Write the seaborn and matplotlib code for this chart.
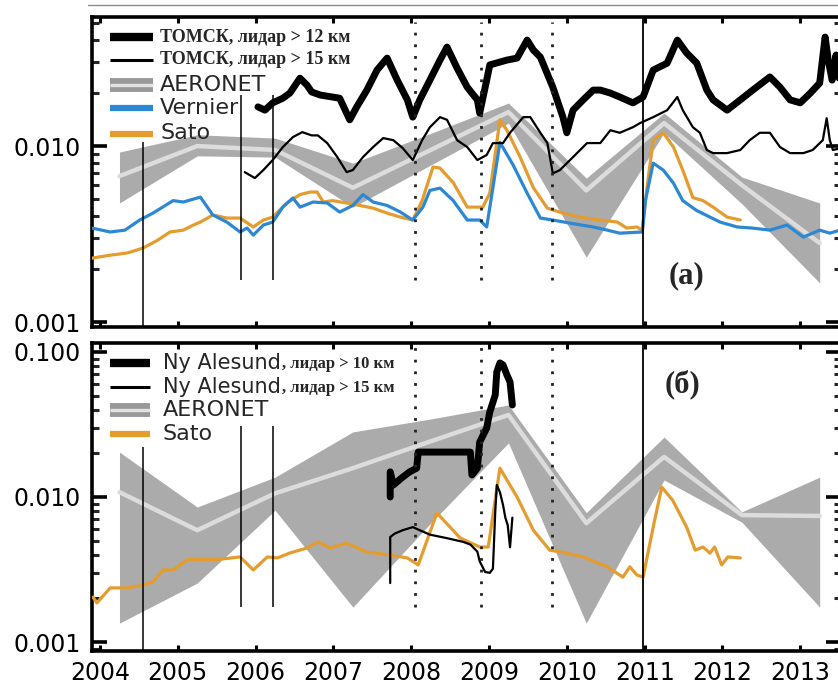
import numpy as np
import matplotlib
matplotlib.use("Agg")
import matplotlib.pyplot as plt
import seaborn as sns
from matplotlib.ticker import LogLocator, FixedLocator, FormatStrFormatter, NullFormatter
from matplotlib.lines import Line2D
from matplotlib.transforms import Affine2D

# ---------------- data ----------------
year_ticks = [2004, 2005, 2006, 2007, 2008, 2009, 2010, 2011, 2012, 2013]

# (a) Tomsk lidar > 12 km
tomsk12_yr = [2006.03, 2006.12, 2006.22, 2006.35, 2006.44, 2006.57, 2006.66, 2006.72, 2006.83, 2007.08,
              2007.21, 2007.30, 2007.43, 2007.56, 2007.69, 2007.82, 2007.95, 2008.02, 2008.11, 2008.24,
              2008.37, 2008.46, 2008.59, 2008.72, 2008.85, 2008.88, 2008.97, 2009.01, 2009.23, 2009.36,
              2009.49, 2009.57, 2009.66, 2009.82, 2009.95, 2010.00, 2010.08, 2010.21, 2010.34, 2010.43,
              2010.56, 2010.68, 2010.85, 2010.98, 2011.11, 2011.29, 2011.42, 2011.54, 2011.67, 2011.80,
              2011.88, 2012.06, 2012.23, 2012.39, 2012.61, 2012.74, 2012.87, 2013.00, 2013.13, 2013.25,
              2013.32, 2013.36, 2013.41, 2013.46, 2013.51]
tomsk12_val = [0.0167, 0.0160, 0.0176, 0.0187, 0.0200, 0.0243, 0.0222, 0.0203, 0.0195, 0.0187,
               0.0141, 0.0167, 0.0208, 0.0270, 0.0316, 0.0237, 0.0183, 0.0146, 0.0183, 0.0237,
               0.0308, 0.0365, 0.0277, 0.0216, 0.0183, 0.0154, 0.0237, 0.0289, 0.0308, 0.0316,
               0.0400, 0.0351, 0.0320, 0.0216, 0.0146, 0.0119, 0.0160, 0.0183, 0.0208, 0.0208,
               0.0200, 0.0190, 0.0176, 0.0190, 0.0270, 0.0296, 0.0400, 0.0338, 0.0296, 0.0208,
               0.0183, 0.0160, 0.0183, 0.0208, 0.0247, 0.0216, 0.0183, 0.0176, 0.0200, 0.0228,
               0.0416, 0.0308, 0.0237, 0.0329, 0.0222]

# (a) Tomsk lidar > 15 km
tomsk15_yr = [2005.86, 2005.99, 2006.10, 2006.22, 2006.35, 2006.48, 2006.60, 2006.72, 2006.80, 2006.92,
              2007.05, 2007.17, 2007.25, 2007.38, 2007.51, 2007.64, 2007.77, 2007.89, 2008.02, 2008.14,
              2008.24, 2008.37, 2008.46, 2008.59, 2008.72, 2008.85, 2008.97, 2009.05, 2009.18, 2009.27,
              2009.44, 2009.53, 2009.66, 2009.75, 2009.82, 2009.91, 2010.08, 2010.26, 2010.43, 2010.56,
              2010.68, 2010.85, 2010.94, 2011.11, 2011.29, 2011.42, 2011.49, 2011.62, 2011.71, 2011.80,
              2011.88, 2012.06, 2012.23, 2012.35, 2012.48, 2012.61, 2012.74, 2012.87, 2013.04, 2013.16,
              2013.29, 2013.34, 2013.38, 2013.42, 2013.51]
tomsk15_val = [0.00711, 0.00658, 0.00731, 0.00833, 0.00987, 0.01125, 0.0120, 0.0115, 0.0115, 0.0104,
               0.00866, 0.00711, 0.00731, 0.00866, 0.00987, 0.0111, 0.0108, 0.00974, 0.00833, 0.0108,
               0.0128, 0.0146, 0.0141, 0.0108, 0.00987, 0.00833, 0.0089, 0.0104, 0.0104, 0.0119,
               0.0146, 0.0146, 0.0119, 0.0104, 0.0070, 0.0073, 0.00866, 0.0104, 0.0104, 0.0123,
               0.0119, 0.0128, 0.0135, 0.0146, 0.0160, 0.0190, 0.0160, 0.0128, 0.0119, 0.0095,
               0.00912, 0.00912, 0.0095, 0.0108, 0.0119, 0.0119, 0.00987, 0.00912, 0.00912, 0.0095,
               0.0108, 0.0144, 0.0108, 0.0095, 0.0097]

# (a) Vernier
vernier_yr = [2003.90, 2004.13, 2004.32, 2004.51, 2004.68, 2004.94, 2005.07, 2005.29, 2005.45, 2005.63,
              2005.80, 2005.89, 2005.97, 2006.10, 2006.22, 2006.35, 2006.48, 2006.57, 2006.74, 2006.92,
              2007.08, 2007.25, 2007.38, 2007.51, 2007.69, 2007.86, 2008.02, 2008.15, 2008.24, 2008.37,
              2008.54, 2008.72, 2008.88, 2008.97, 2009.05, 2009.14, 2009.31, 2009.49, 2009.66, 2009.82,
              2010.04, 2010.34, 2010.52, 2010.68, 2010.97, 2011.01, 2011.11, 2011.24, 2011.37, 2011.49,
              2011.67, 2011.84, 2011.97, 2012.19, 2012.39, 2012.61, 2012.83, 2013.04, 2013.25, 2013.38,
              2013.51]
vernier_val = [0.00342, 0.00325, 0.00333, 0.0038, 0.00416, 0.0049, 0.00481, 0.00513, 0.00406, 0.0037,
               0.00325, 0.00342, 0.00312, 0.00356, 0.0037, 0.0045, 0.00507, 0.0045, 0.00481, 0.00475,
               0.00422, 0.0046, 0.0053, 0.00481, 0.0046, 0.00422, 0.0038, 0.0045, 0.0056, 0.00577,
               0.0049, 0.0038, 0.0038, 0.00347, 0.0058, 0.0105, 0.0078, 0.0054, 0.0039, 0.0038,
               0.00365, 0.00347, 0.00333, 0.0032, 0.00325, 0.0049, 0.0080, 0.0073, 0.00616, 0.0049,
               0.0043, 0.00395, 0.0037, 0.00347, 0.00342, 0.00333, 0.00356, 0.00304, 0.00333, 0.0032,
               0.00333]

# (a) Sato
sato_a_yr = [2003.90, 2004.13, 2004.35, 2004.55, 2004.73, 2004.90, 2005.07, 2005.20, 2005.29, 2005.45,
             2005.63, 2005.80, 2005.97, 2006.10, 2006.22, 2006.40, 2006.57, 2006.70, 2006.79, 2006.87,
             2006.99, 2007.17, 2007.34, 2007.51, 2007.69, 2007.86, 2008.02, 2008.14, 2008.28, 2008.37,
             2008.54, 2008.72, 2008.92, 2009.01, 2009.14, 2009.23, 2009.40, 2009.57, 2009.75, 2009.95,
             2010.17, 2010.43, 2010.65, 2010.77, 2010.90, 2010.97, 2011.03, 2011.11, 2011.24, 2011.37,
             2011.49, 2011.62, 2011.75, 2011.88, 2012.06, 2012.23]
sato_a_val = [0.00231, 0.0024, 0.00247, 0.00263, 0.0029, 0.00325, 0.00333, 0.00356, 0.0037, 0.00406,
              0.0039, 0.0039, 0.00347, 0.0038, 0.00395, 0.00475, 0.0053, 0.00548, 0.00548, 0.00481,
              0.0049, 0.00475, 0.0046, 0.00444, 0.00416, 0.00395, 0.0038, 0.0049, 0.0076, 0.0075,
              0.0062, 0.0045, 0.0045, 0.0054, 0.0141, 0.0123, 0.00866, 0.0058, 0.00444, 0.00416,
              0.00395, 0.0038, 0.0037, 0.00342, 0.00347, 0.00333, 0.0058, 0.0108, 0.0119, 0.00987,
              0.0073, 0.0051, 0.0049, 0.0045, 0.00395, 0.0038]

# AERONET annual values (band + central line)
aeronet_yr = [2004.25, 2005.25, 2006.25, 2007.25, 2008.25, 2009.25, 2010.25, 2011.25, 2012.25, 2013.25]
aeronet_a_hi = [0.00925, 0.0116, 0.0111, 0.0080, 0.0118, 0.01755, 0.00658, 0.0154, 0.00667, 0.00475]
aeronet_a_mid = [0.00675, 0.0100, 0.0095, 0.0058, 0.0095, 0.0156, 0.0056, 0.0135, 0.0060, 0.00281]
aeronet_a_lo = [0.00475, 0.0088, 0.00866, 0.0045, 0.0078, 0.0135, 0.00234, 0.0119, 0.0047, 0.00167]
aeronet_b_hi = [0.0204, 0.00853, 0.0137, 0.0281, 0.0345, 0.0431, 0.0078, 0.0259, 0.0079, 0.0137]
aeronet_b_mid = [0.0108, 0.0059, 0.0106, 0.0158, 0.0242, 0.0368, 0.0066, 0.0189, 0.0075, 0.0074]
aeronet_b_lo = [0.00135, 0.00255, 0.0081, 0.00174, 0.0066, 0.0236, 0.00135, 0.0131, 0.0067, 0.00174]

# (b) Sato
sato_b_yr = [2003.91, 2003.96, 2004.13, 2004.35, 2004.55, 2004.68, 2004.81, 2004.94, 2005.12, 2005.29,
             2005.50, 2005.80, 2005.97, 2006.15, 2006.28, 2006.44, 2006.66, 2006.80, 2006.96, 2007.17,
             2007.43, 2007.69, 2007.95, 2008.09, 2008.33, 2008.63, 2008.88, 2008.99, 2009.14, 2009.36,
             2009.57, 2009.78, 2010.00, 2010.21, 2010.52, 2010.72, 2010.81, 2010.90, 2010.98, 2011.11,
             2011.22, 2011.36, 2011.54, 2011.65, 2011.75, 2011.84, 2011.90, 2011.99, 2012.07, 2012.23]
sato_b_val = [0.00204, 0.00186, 0.00236, 0.00236, 0.00247, 0.00259, 0.00314, 0.00314, 0.0037, 0.0037,
              0.0037, 0.00386, 0.00314, 0.00386, 0.0038, 0.00411, 0.00445, 0.0049, 0.00445, 0.0048,
              0.00418, 0.0040, 0.0038, 0.0034, 0.00776, 0.00521, 0.00452, 0.00452, 0.0158, 0.0100,
              0.0059, 0.0043, 0.0041, 0.00386, 0.0033, 0.0028, 0.0033, 0.0029, 0.0028, 0.0062,
              0.0117, 0.0095, 0.0062, 0.0043, 0.00452, 0.0041, 0.00452, 0.0034, 0.00386, 0.0038]

# (b) Ny Alesund lidar > 10 km
ny10_yr = [2007.73, 2007.73, 2007.77, 2007.89, 2007.98, 2008.07, 2008.09, 2008.76, 2008.78, 2008.85,
           2008.88, 2008.97, 2009.01, 2009.08, 2009.10, 2009.14, 2009.18, 2009.23, 2009.27, 2009.30]
ny10_val = [0.0100, 0.0149, 0.0121, 0.0137, 0.0149, 0.0158, 0.0204, 0.0204, 0.0142, 0.0158,
            0.0239, 0.0299, 0.0386, 0.0505, 0.0728, 0.0840, 0.0814, 0.0694, 0.0621, 0.0431]

# (b) Ny Alesund lidar > 15 km
ny15_yr = [2007.73, 2007.73, 2007.79, 2007.89, 2008.02, 2008.11, 2008.24, 2008.46, 2008.67, 2008.76,
           2008.85, 2008.88, 2008.95, 2009.01, 2009.05, 2009.08, 2009.10, 2009.14, 2009.18, 2009.21,
           2009.24, 2009.27, 2009.30]
ny15_val = [0.00255, 0.0053, 0.0056, 0.0059, 0.0062, 0.0059, 0.0055, 0.0052, 0.0049, 0.0047,
            0.0042, 0.0036, 0.00304, 0.0030, 0.0032, 0.0079, 0.0121, 0.0108, 0.0088, 0.0072,
            0.0064, 0.0045, 0.0072]

# event markers (years)
events_short = [2005.81, 2006.22]
event_long = 2004.55
events_dotted = [2008.05, 2008.90, 2009.81]
event_full = 2010.98

# ---------------- style ----------------
BLUE = "#2c88d2"
ORANGE = "#e49c2f"
BAND = "#ababab"
BANDLINE = "#dcdcdc"

sns.set_style("white")
plt.rcParams["font.family"] = ["DejaVu Sans"]
SERIF = ["Liberation Serif", "DejaVu Serif"]

W, H = 838, 691
fig = plt.figure(figsize=(W / 100, H / 100), dpi=100)
fig.patch.set_facecolor("white")


def px_axes(left, top, right, bottom):
    return fig.add_axes([left / W, 1 - bottom / H, (right - left) / W, (bottom - top) / H])


ax1 = px_axes(92, 17, 841, 327)
ax2 = px_axes(92, 343, 841, 651)

for ax in (ax1, ax2):
    ax.set_yscale("log")
    ax.set_facecolor("white")
    ax.grid(False)
    for s in ax.spines.values():
        s.set_linewidth(2.6)
        s.set_color("black")
        s.set_visible(True)
    ax.xaxis.set_major_locator(FixedLocator(year_ticks))
    ax.tick_params(axis="x", which="major", direction="in", length=4, width=2.2,
                   top=True, bottom=True, labelsize=17, pad=7, colors="black")
    ax.tick_params(axis="x", which="minor", bottom=False, top=False)
    ax.yaxis.set_major_locator(LogLocator(base=10, numticks=10))
    ax.yaxis.set_minor_locator(LogLocator(base=10, subs=np.arange(2, 10), numticks=10))
    ax.yaxis.set_major_formatter(FormatStrFormatter("%.3f"))
    ax.yaxis.set_minor_formatter(NullFormatter())
    ax.tick_params(axis="y", which="major", direction="in", length=11, width=2.6,
                   left=True, right=True, labelsize=17, pad=8, colors="black")
    ax.tick_params(axis="y", which="minor", direction="in", length=5, width=2.2,
                   left=True, right=True)

# ---------------- panel (a) ----------------
ax1.fill_between(aeronet_yr, aeronet_a_lo, aeronet_a_hi, color=BAND, lw=0, zorder=1)
sns.lineplot(x=aeronet_yr, y=aeronet_a_mid, ax=ax1, color=BANDLINE, lw=3.2,
             estimator=None, sort=False, zorder=2)
sns.lineplot(x=vernier_yr, y=vernier_val, ax=ax1, color=BLUE, lw=2.3,
             estimator=None, sort=False, zorder=4)
sns.lineplot(x=sato_a_yr, y=sato_a_val, ax=ax1, color=ORANGE, lw=2.3,
             estimator=None, sort=False, zorder=3)
sns.lineplot(x=tomsk15_yr, y=tomsk15_val, ax=ax1, color="black", lw=1.6,
             estimator=None, sort=False, zorder=5)
sns.lineplot(x=tomsk12_yr, y=tomsk12_val, ax=ax1, color="black", lw=5,
             estimator=None, sort=False, zorder=5)

ax1.vlines(event_long, 0.0009, 0.0105, color="black", lw=1.1, zorder=6)
ax1.vlines(events_short, 0.00174, 0.0195, color="black", lw=1.1, zorder=6)
ax1.vlines(events_dotted, 0.00174, 0.051, color="#222222", lw=2.0,
           linestyles=[(0, (1, 3.2))], zorder=6)
ax1.axvline(event_full, color="black", lw=1.3, zorder=6)

ax1.set_xlim(2003.897, 2013.524)
ax1.set_ylim(0.000938, 0.0541)
ax1.tick_params(axis="x", labelbottom=False)

# ---------------- panel (b) ----------------
ax2.fill_between(aeronet_yr, aeronet_b_lo, aeronet_b_hi, color=BAND, lw=0, zorder=1)
sns.lineplot(x=aeronet_yr, y=aeronet_b_mid, ax=ax2, color=BANDLINE, lw=3.2,
             estimator=None, sort=False, zorder=2)
sns.lineplot(x=sato_b_yr, y=sato_b_val, ax=ax2, color=ORANGE, lw=2.3,
             estimator=None, sort=False, zorder=3)
sns.lineplot(x=ny15_yr, y=ny15_val, ax=ax2, color="black", lw=1.6,
             estimator=None, sort=False, zorder=5)
sns.lineplot(x=ny10_yr, y=ny10_val, ax=ax2, color="black", lw=5,
             estimator=None, sort=False, zorder=5)

ax2.vlines(event_long, 0.0008, 0.022, color="black", lw=1.1, zorder=6)
ax2.vlines(events_short, 0.00174, 0.031, color="black", lw=1.1, zorder=6)
ax2.vlines(events_dotted, 0.00174, 0.112, color="#222222", lw=2.0,
           linestyles=[(0, (1, 3.2))], zorder=6)
ax2.axvline(event_full, color="black", lw=1.3, zorder=6)

ax2.set_xlim(2003.897, 2013.524)
ax2.set_ylim(0.000867, 0.1153)
ax2.set_xticklabels([str(y) for y in year_ticks])
for ax in (ax1, ax2):
    ax.set_xlabel("")
    ax.set_ylabel("")

# ---------------- legends (drawn in pixel space, origin top-left) ----------------
PX = Affine2D().scale(1, -1).translate(0, H)


def handle(x0, x1, y, **kw):
    fig.add_artist(Line2D([x0, x1], [y, y], transform=PX, solid_capstyle="butt", **kw))


def aeronet_handle(x0, x1, y):
    handle(x0, x1, y, color="#999999", lw=10)
    handle(x0, x1, y, color="#e2e2e2", lw=2.4)


# legend (a)
handle(110, 153, 37, color="black", lw=6)
handle(110, 153, 60, color="black", lw=2.2)
aeronet_handle(110, 153, 85)
handle(110, 153, 108, color=BLUE, lw=4.5)
handle(110, 153, 134, color=ORANGE, lw=4.5)
fig.text(160, 37, "ТОМСК, лидар > 12 км", transform=PX, family=SERIF, weight="bold",
         fontsize=13, va="center", ha="left")
fig.text(160, 60, "ТОМСК, лидар > 15 км", transform=PX, family=SERIF, weight="bold",
         fontsize=13, va="center", ha="left")
fig.text(160, 85, "AERONET", transform=PX, fontsize=16, va="center", ha="left")
fig.text(160, 108, "Vernier", transform=PX, fontsize=16, va="center", ha="left")
fig.text(160, 133, "Sato", transform=PX, fontsize=16, va="center", ha="left")

# legend (b)
handle(110, 150, 363, color="black", lw=6)
handle(110, 150, 387, color="black", lw=2.2)
aeronet_handle(110, 150, 410)
handle(110, 150, 434, color=ORANGE, lw=4.5)
t1 = fig.text(163, 363, "Ny Alesund", transform=PX, fontsize=15, va="center", ha="left")
t2 = fig.text(163, 387, "Ny Alesund", transform=PX, fontsize=15, va="center", ha="left")
fig.text(163, 410, "AERONET", transform=PX, fontsize=16, va="center", ha="left")
fig.text(163, 434, "Sato", transform=PX, fontsize=16, va="center", ha="left")
fig.canvas.draw()
r = fig.canvas.get_renderer()
for t, lab, yy in ((t1, ", лидар > 10 км", 363), (t2, ", лидар > 15 км", 387)):
    bb = t.get_window_extent(renderer=r)
    fig.text(bb.x1 + 1, yy + 1, lab, transform=PX, family=SERIF, weight="bold",
             fontsize=12, va="center", ha="left")

# panel labels
fig.text(687, 276, "(а)", transform=PX, family=SERIF, weight="bold", fontsize=22,
         va="center", ha="center")
fig.text(683, 384, "(б)", transform=PX, family=SERIF, weight="bold", fontsize=22,
         va="center", ha="center")

# thin rule at the very top
fig.add_artist(Line2D([88, 838], [5, 5], transform=PX, color="#8a8a8a", lw=1))

fig.savefig("out.png", dpi=100)
